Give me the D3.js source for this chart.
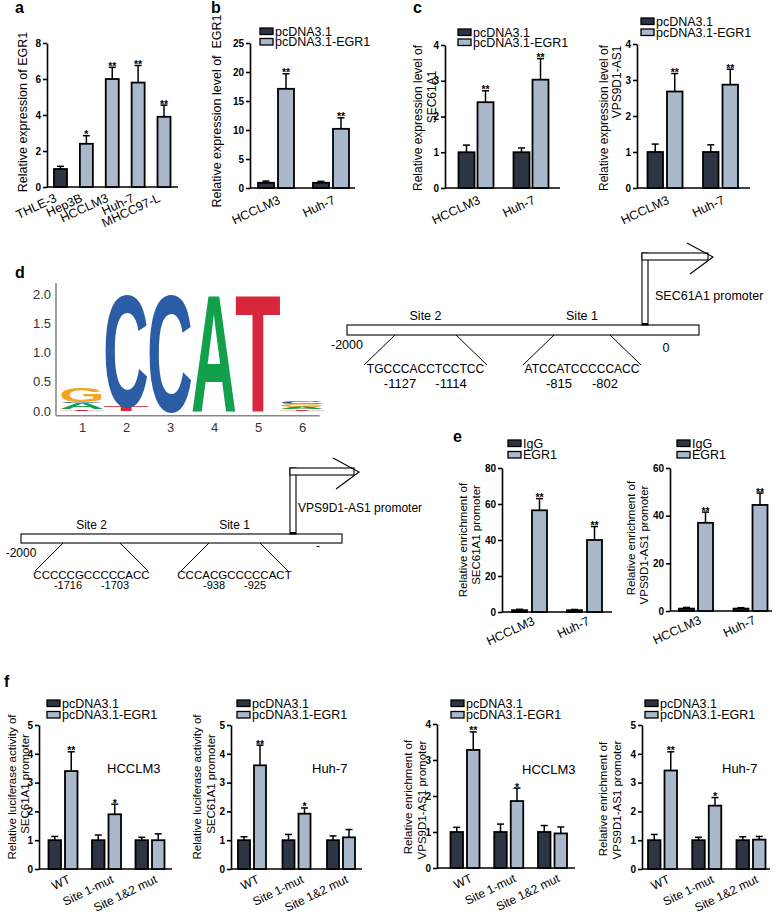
<!DOCTYPE html>
<html>
<head>
<meta charset="utf-8">
<script src="https://cdn.jsdelivr.net/npm/d3@7"></script>
<style>
body { margin: 0; background: #fff; }
svg text { font-family: Arial, "Liberation Sans", Helvetica, sans-serif; fill: #000; }
</style>
</head>
<body>
<svg id="fig" width="779" height="916"></svg>
<script>
// ---------- data ----------
const aCells = ["THLE-3", "Hep3B", "HCCLM3", "Huh-7", "MHCC97-L"];
const aValues = [1.0, 2.4, 6.0, 5.8, 3.9];
const aErrors = [0.15, 0.45, 0.65, 0.95, 0.65];
const aStars = ["", "*", "**", "**", "**"];
const aTicks = [0, 2, 4, 6, 8];

const pairCells = ["HCCLM3", "Huh-7"];
const vecNames = ["pcDNA3.1", "pcDNA3.1-EGR1"];
const chipNames = ["IgG", "EGR1"];

const bCtrl = [0.9, 0.9], bCtrlErr = [0.3, 0.25];
const bEgr = [17.1, 10.2], bEgrErr = [2.6, 1.9];
const bTicks = [0, 5, 10, 15, 20, 25];

const c1Ctrl = [1.0, 1.0], c1CtrlErr = [0.2, 0.12];
const c1Egr = [2.4, 3.03], c1EgrErr = [0.32, 0.59];
const c2Ctrl = [1.0, 1.0], c2CtrlErr = [0.22, 0.2];
const c2Egr = [2.68, 2.87], c2EgrErr = [0.5, 0.43];
const cTicks = [0, 1, 2, 3, 4];

const e1IgG = [1.0, 1.0], e1IgGErr = [0.5, 0.4];
const e1Egr = [56.5, 40], e1EgrErr = [6.5, 7.5];
const e1Ticks = [0, 20, 40, 60, 80];
const e2IgG = [1.0, 1.0], e2IgGErr = [0.5, 0.4];
const e2Egr = [37, 44.5], e2EgrErr = [4.5, 5];
const e2Ticks = [0, 20, 40, 60];

const twoStars = ["**", "**"];

const fGroups = ["WT", "Site 1-mut", "Site 1&2 mut"];
const fStars = ["**", "*", ""];
const f1Ctrl = [1, 1, 1], f1CtrlErr = [0.13, 0.18, 0.1];
const f1Egr = [3.4, 1.9, 1.0], f1EgrErr = [0.67, 0.35, 0.22];
const f2Ctrl = [1, 1, 1], f2CtrlErr = [0.12, 0.2, 0.15];
const f2Egr = [3.6, 1.92, 1.1], f2EgrErr = [0.7, 0.2, 0.27];
const f3Ctrl = [1, 1, 1], f3CtrlErr = [0.13, 0.22, 0.18];
const f3Egr = [3.28, 1.86, 0.96], f3EgrErr = [0.5, 0.36, 0.18];
const f4Ctrl = [1, 1, 1], f4CtrlErr = [0.2, 0.1, 0.12];
const f4Egr = [3.42, 2.2, 1.02], f4EgrErr = [0.65, 0.28, 0.11];
const f5Ticks = [0, 1, 2, 3, 4, 5];
const f4Ticks = [0, 1, 2, 3, 4];

// motif logo, stacks listed bottom -> top, heights in bits
const logoPos = [1, 2, 3, 4, 5, 6];
const logoTicks = [0, 0.5, 1, 1.5, 2];
const logoStacks = [
  [["T", 0.03], ["A", 0.1], ["C", 0.03], ["G", 0.25]],
  [["T", 0.08], ["C", 1.96]],
  [["C", 2.04]],
  [["A", 2.04]],
  [["T", 2.04]],
  [["T", 0.03], ["A", 0.04], ["G", 0.05], ["C", 0.05]]
];

// promoter schematics
const secSites = [-2000, -1127, -1114, -815, -802, 0];
const secSeqs = ["TGCCCACCTCCTCC", "ATCCATCCCCCACC"];
const vpsSites = [-2000, -1716, -1703, -938, -925, 0];
const vpsSeqs = ["CCCCCGCCCCCACC", "CCCACGCCCCCACT"];

// ---------- drawing ----------
const dark = "#2d3545", light = "#a9b8cb";
const svg = d3.select("#fig");

function drawBarPanel(cfg) {
  const g = svg.append("g");
  const y = d3.scaleLinear().domain([0, cfg.max]).range([cfg.y0, cfg.yTop]);
  const xc = d3.scalePoint().domain(cfg.groups).range(cfg.centers);
  const ns = cfg.series.length;
  const half = (ns * cfg.barW + (ns - 1) * cfg.gap) / 2;
  const inner = d3.scaleBand().domain(d3.range(ns)).range([-half, half])
    .paddingInner(ns > 1 ? cfg.gap / (cfg.barW + cfg.gap) : 0);

  // axes
  const ax = g.append("g").attr("transform", `translate(${cfg.ax},0)`)
    .call(d3.axisLeft(y).tickValues(cfg.ticks).tickFormat(d3.format("d"))
      .tickSize(4).tickSizeOuter(0).tickPadding(2));
  ax.selectAll("path, line").attr("stroke", "#000").attr("stroke-width", 1.6);
  ax.selectAll("text").attr("font-size", 10).attr("font-weight", "bold")
    .attr("font-family", "Arial, 'Liberation Sans', sans-serif").attr("fill", "#000");
  g.append("line").attr("x1", cfg.ax).attr("x2", cfg.axEnd)
    .attr("y1", y(0)).attr("y2", y(0)).attr("stroke", "#000").attr("stroke-width", 1.6);

  cfg.series.forEach((s, si) => {
    cfg.groups.forEach((grp, i) => {
      const x0 = xc(grp) + inner(si), w = inner.bandwidth(), cx = x0 + w / 2;
      const v = s.vals[i], top = v + s.errs[i];
      g.append("line").attr("x1", cx).attr("x2", cx).attr("y1", y(v)).attr("y2", y(top))
        .attr("stroke", "#000").attr("stroke-width", 1.5);
      g.append("line").attr("x1", cx - 3.5).attr("x2", cx + 3.5).attr("y1", y(top)).attr("y2", y(top))
        .attr("stroke", "#000").attr("stroke-width", 1.5);
      g.append("rect").attr("x", x0).attr("y", y(v)).attr("width", w).attr("height", y(0) - y(v))
        .attr("fill", s.fills ? s.fills[i] : s.fill).attr("stroke", "#000").attr("stroke-width", 1.8);
      if (s.stars && s.stars[i]) {
        g.append("text").attr("x", cx).attr("y", y(top) + 2.5).attr("text-anchor", "middle")
          .attr("font-size", 10.5).attr("font-weight", "bold")
          .attr("font-family", "'Liberation Sans', Arial, sans-serif")
          .style("fill", "#000").text(s.stars[i]);
      }
    });
  });

  // category labels
  cfg.groups.forEach(grp => {
    g.append("text").attr("text-anchor", "end").attr("font-size", cfg.xFont || 12.5)
      .attr("transform", `translate(${xc(grp) + cfg.xDx},${y(0) + cfg.xDy}) rotate(${cfg.xRot})`)
      .text(grp);
  });

  // legend
  if (cfg.legend) {
    cfg.legend.forEach((name, i) => {
      const ly = cfg.legY + i * cfg.legGap;
      g.append("rect").attr("x", cfg.legX).attr("y", ly - 3).attr("width", 13).attr("height", 6.5)
        .attr("fill", cfg.series[i].fill).attr("stroke", "#000").attr("stroke-width", 1.3);
      g.append("text").attr("x", cfg.legX + 15).attr("y", ly + 4.5).attr("font-size", 12.5).text(name);
    });
  }

  // axis title lines
  cfg.ylabels.forEach(l => {
    g.append("text").attr("text-anchor", "middle").attr("dominant-baseline", "central")
      .attr("font-size", l.size || 11.5).style("white-space", "pre")
      .attr("transform", `translate(${l.x},${l.y}) rotate(-90)`).text(l.t);
  });

  if (cfg.note) {
    g.append("text").attr("x", cfg.note.x).attr("y", cfg.note.y).attr("font-size", 13).text(cfg.note.t);
  }
}

function pair(ctrl, ctrlErr, egr, egrErr, stars) {
  return [
    { vals: ctrl, errs: ctrlErr, fill: dark },
    { vals: egr, errs: egrErr, fill: light, stars: stars }
  ];
}

// panel a
drawBarPanel({
  ax: 47, axEnd: 178, y0: 187, yTop: 43, max: 8, ticks: aTicks,
  groups: aCells, centers: [60.5, 164], barW: 13, gap: 0,
  series: [{ vals: aValues, errs: aErrors, stars: aStars, fills: aValues.map((d, i) => i === 0 ? dark : light) }],
  xDx: -3, xDy: 14, xRot: -25,
  ylabels: [{ t: "Relative expression of EGR1", x: 23, y: 112, size: 12.5 }]
});

// panel b
drawBarPanel({
  ax: 250, axEnd: 355, y0: 188, yTop: 43, max: 25, ticks: bTicks,
  groups: pairCells, centers: [276, 331], barW: 16, gap: 4,
  series: pair(bCtrl, bCtrlErr, bEgr, bEgrErr, twoStars),
  xDx: 5, xDy: 15, xRot: -25,
  legend: vecNames, legX: 260, legY: 31, legGap: 10.5,
  ylabels: [{ t: "Relative expression level of  EGR1", x: 217, y: 111, size: 12.5 }]
});

// panel c
drawBarPanel({
  ax: 445, axEnd: 560, y0: 188, yTop: 45, max: 4, ticks: cTicks,
  groups: pairCells, centers: [476, 531], barW: 16, gap: 3,
  series: pair(c1Ctrl, c1CtrlErr, c1Egr, c1EgrErr, twoStars),
  xDx: 5, xDy: 15, xRot: -25,
  legend: vecNames, legX: 458, legY: 32, legGap: 10,
  ylabels: [{ t: "Relative expression level of", x: 418, y: 118, size: 12 },
            { t: "SEC61A1", x: 431.5, y: 97, size: 12 }]
});
drawBarPanel({
  ax: 637, axEnd: 750, y0: 188, yTop: 44, max: 4, ticks: cTicks,
  groups: pairCells, centers: [665, 720.5], barW: 15.5, gap: 4,
  series: pair(c2Ctrl, c2CtrlErr, c2Egr, c2EgrErr, twoStars),
  xDx: 5, xDy: 15, xRot: -25,
  legend: vecNames, legX: 641, legY: 21, legGap: 11,
  ylabels: [{ t: "Relative expression level of", x: 603.5, y: 118, size: 12 },
            { t: "VPS9D1-AS1", x: 617, y: 82, size: 12 }]
});

// panel e
drawBarPanel({
  ax: 502, axEnd: 612, y0: 612, yTop: 468, max: 80, ticks: e1Ticks,
  groups: pairCells, centers: [529.5, 584.5], barW: 15, gap: 5,
  series: pair(e1IgG, e1IgGErr, e1Egr, e1EgrErr, twoStars),
  xDx: 6, xDy: 12, xRot: -25,
  legend: chipNames, legX: 508, legY: 443, legGap: 11.5,
  ylabels: [{ t: "Relative enrichment of", x: 463, y: 540 },
            { t: "SEC61A1 promoter", x: 476, y: 535 }]
});
drawBarPanel({
  ax: 670, axEnd: 772, y0: 611, yTop: 468, max: 60, ticks: e2Ticks,
  groups: pairCells, centers: [696, 750.5], barW: 15, gap: 4,
  series: pair(e2IgG, e2IgGErr, e2Egr, e2EgrErr, twoStars),
  xDx: 6, xDy: 12, xRot: -25,
  legend: chipNames, legX: 677, legY: 443, legGap: 11.5,
  ylabels: [{ t: "Relative enrichment of", x: 631, y: 538 },
            { t: "VPS9D1-AS1 promoter", x: 644, y: 545 }]
});

// panel f
const fCommon = { groups: fGroups, barW: 12.5, gap: 4, xDx: 8, xDy: 13, xRot: -26, xFont: 12,
  legend: vecNames, legY: 703, legGap: 11.5 };
drawBarPanel(Object.assign({}, fCommon, {
  ax: 39, axEnd: 172, y0: 869, yTop: 725, max: 5, ticks: f5Ticks, centers: [63, 150],
  series: pair(f1Ctrl, f1CtrlErr, f1Egr, f1EgrErr, fStars), legX: 47,
  note: { t: "HCCLM3", x: 107, y: 773 },
  ylabels: [{ t: "Relative luciferase activity of", x: 11.5, y: 787 },
            { t: "SEC61A1 promoter", x: 25, y: 784 }]
}));
drawBarPanel(Object.assign({}, fCommon, {
  ax: 231, axEnd: 362, y0: 869, yTop: 725, max: 5, ticks: f5Ticks, centers: [252, 341], barW: 12,
  series: pair(f2Ctrl, f2CtrlErr, f2Egr, f2EgrErr, fStars), legX: 237,
  note: { t: "Huh-7", x: 312, y: 773 },
  ylabels: [{ t: "Relative luciferase activity of", x: 197, y: 787 },
            { t: "SEC61A1 promoter", x: 210.5, y: 784 }]
}));
drawBarPanel(Object.assign({}, fCommon, {
  ax: 437, axEnd: 575, y0: 868, yTop: 724, max: 4, ticks: f4Ticks, centers: [465, 552.5],
  series: pair(f3Ctrl, f3CtrlErr, f3Egr, f3EgrErr, fStars), legX: 451,
  note: { t: "HCCLM3", x: 522, y: 774 },
  ylabels: [{ t: "Relative enrichment of", x: 408, y: 797 },
            { t: "VPS9D1-AS1 promoter", x: 421.5, y: 800 }]
}));
drawBarPanel(Object.assign({}, fCommon, {
  ax: 642, axEnd: 770, y0: 869, yTop: 725, max: 5, ticks: f5Ticks, centers: [662.5, 751],
  series: pair(f4Ctrl, f4CtrlErr, f4Egr, f4EgrErr, fStars), legX: 645,
  note: { t: "Huh-7", x: 722, y: 773 },
  ylabels: [{ t: "Relative enrichment of", x: 603, y: 799 },
            { t: "VPS9D1-AS1 promoter", x: 616.5, y: 800 }]
}));

// ---------- motif logo (panel d) ----------
(function drawLogo() {
  const g = svg.append("g");
  const colors = { A: "#12a04b", C: "#2b5da6", G: "#f5a61f", T: "#d8263c" };
  const lx = d3.scaleLinear().domain([1, 6]).range([82, 302]);
  const ly = d3.scaleLinear().domain([0, 2]).range([411, 294]);
  const colW = 44;

  logoStacks.forEach((stack, i) => {
    let base = 0;
    stack.forEach(([ch, h]) => {
      const t = g.append("text").text(ch).attr("font-size", 100).attr("font-weight", "bold")
        .attr("text-anchor", "middle").style("fill", colors[ch]);
      const len = t.node().getComputedTextLength();
      const ph = ly(base) - ly(base + h);
      t.attr("transform", `translate(${lx(logoPos[i])},${ly(base)}) scale(${colW * 1.04 / len},${ph / 71.6})`);
      base += h;
    });
  });

  const yAx = g.append("g").attr("transform", "translate(56,0)")
    .call(d3.axisLeft(ly).tickValues(logoTicks).tickFormat(d3.format(".1f")).tickSize(0).tickPadding(5));
  yAx.select(".domain").remove();
  yAx.selectAll("text").attr("font-size", 13).style("fill", "#333");
  g.append("line").attr("x1", 56).attr("x2", 56).attr("y1", ly(2.19)).attr("y2", ly(-0.08))
    .attr("stroke", "#888").attr("stroke-width", 1.6);

  const xAx = g.append("g").attr("transform", `translate(0,${ly(-0.08)})`)
    .call(d3.axisBottom(lx).tickValues(logoPos).tickFormat(d3.format("d")).tickSize(0).tickPadding(7));
  xAx.select(".domain").remove();
  xAx.selectAll("text").attr("font-size", 13).style("fill", "#333");
  g.append("line").attr("x1", 56).attr("x2", lx(6.4)).attr("y1", ly(-0.08)).attr("y2", ly(-0.08))
    .attr("stroke", "#888").attr("stroke-width", 1.6);
})();

// ---------- promoter schematics ----------
function drawPromoter(cfg) {
  const g = svg.append("g").attr("font-size", cfg.font);
  const px = d3.scaleLinear().domain(cfg.sites).range(cfg.xs);
  const x0 = px(cfg.sites[0]), xTss = px(0);
  // chromosome bar
  g.append("rect").attr("x", x0).attr("y", cfg.barY).attr("width", cfg.barEnd - x0).attr("height", cfg.barH)
    .attr("fill", "#fff").attr("stroke", "#000").attr("stroke-width", 1.1);
  // TSS arrow
  g.append("rect").attr("x", xTss - 3).attr("y", cfg.arrowY).attr("width", 6).attr("height", cfg.barY - cfg.arrowY)
    .attr("fill", "#fff").attr("stroke", "#000").attr("stroke-width", 1.1);
  g.append("rect").attr("x", xTss - 3).attr("y", cfg.arrowY).attr("width", cfg.arrowLen).attr("height", 7)
    .attr("fill", "#fff").attr("stroke", "#000").attr("stroke-width", 1.1);
  const tip = [xTss - 3 + cfg.arrowLen + 5, cfg.arrowY + 4];
  g.append("path").attr("d", `M${tip[0] - 26},${tip[1] - 14}L${tip[0]},${tip[1]}L${tip[0] - 23},${tip[1] + 17}`)
    .attr("fill", "none").attr("stroke", "#000").attr("stroke-width", 1.1);
  g.append("rect").attr("x", xTss - 3).attr("y", cfg.barY - 2).attr("width", 6).attr("height", 2).attr("fill", "#000");
  g.append("text").attr("x", xTss + cfg.nameDx).attr("y", cfg.arrowY + cfg.nameDy)
    .attr("font-size", cfg.font + 0.5).text(cfg.name);

  // end labels
  g.append("text").attr("x", x0).attr("y", cfg.barY + cfg.barH + 14).attr("text-anchor", "middle")
    .attr("font-size", cfg.font + 0.5).text("-2000");
  g.append("text").attr("x", xTss + cfg.zeroDx).attr("y", cfg.barY + cfg.barH + cfg.zeroDy)
    .attr("text-anchor", "middle").attr("font-size", cfg.font + 0.5).text(cfg.zero);

  // binding sites
  [[1, 2], [3, 4]].forEach(([a, b], k) => {
    const xa = px(cfg.sites[a]), xb = px(cfg.sites[b]);
    const yb = cfg.barY + cfg.barH, yl = yb + cfg.drop;
    g.append("line").attr("x1", xa).attr("y1", yb).attr("x2", xa - cfg.spread).attr("y2", yl).attr("stroke", "#000");
    g.append("line").attr("x1", xb).attr("y1", yb).attr("x2", xb + cfg.spread).attr("y2", yl).attr("stroke", "#000");
    g.append("text").attr("x", (xa + xb) / 2).attr("y", cfg.barY - 5).attr("text-anchor", "middle")
      .attr("font-size", cfg.font + 0.5).text(k === 0 ? "Site 2" : "Site 1");
    g.append("text").attr("x", (xa + xb) / 2).attr("y", yl + 8).attr("text-anchor", "middle").text(cfg.seqs[k]);
    g.append("text").attr("x", xa + 5).attr("y", yl + cfg.numDy).attr("text-anchor", "middle")
      .attr("font-size", cfg.numFont).text(cfg.sites[a]);
    g.append("text").attr("x", xb - 5).attr("y", yl + cfg.numDy).attr("text-anchor", "middle")
      .attr("font-size", cfg.numFont).text(cfg.sites[b]);
  });
}

drawPromoter({
  sites: secSites, xs: [347, 395, 456, 554, 610, 645], seqs: secSeqs, name: "SEC61A1 promoter",
  barY: 325, barH: 10, barEnd: 699, arrowY: 253, arrowLen: 66, drop: 30, spread: 31,
  font: 12, numFont: 13, numDy: 23, zero: "0", zeroDx: 21, zeroDy: 17, nameDx: 10, nameDy: 47
});
drawPromoter({
  sites: vpsSites, xs: [21, 63, 120, 209, 260, 293], seqs: vpsSeqs, name: "VPS9D1-AS1 promoter",
  barY: 534, barH: 9, barEnd: 342, arrowY: 468, arrowLen: 64, drop: 28, spread: 28,
  font: 11.5, numFont: 11, numDy: 18, zero: "-", zeroDx: 25, zeroDy: 7, nameDx: 5, nameDy: 44
});

// ---------- panel letters ----------
[["a", 15, 13], ["b", 211, 13], ["c", 413, 13], ["d", 15, 278], ["e", 453, 442], ["f", 4, 687]]
  .forEach(([t, x, y]) => {
    svg.append("text").attr("x", x).attr("y", y).attr("font-size", 16).attr("font-weight", "bold").text(t);
  });
</script>
</body>
</html>
